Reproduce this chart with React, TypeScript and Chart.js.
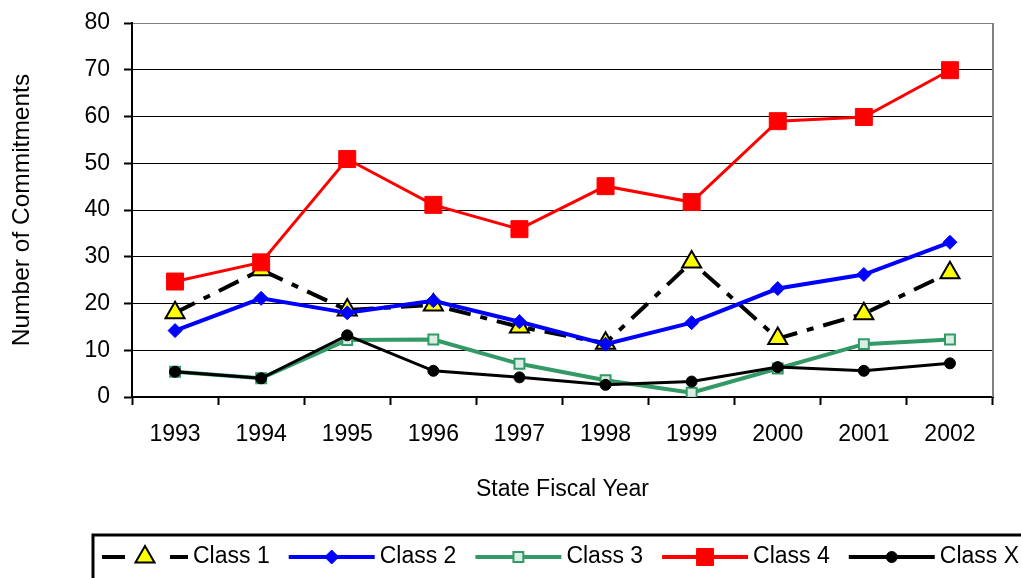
import React, { useEffect, useRef } from "react";
import { Chart, registerables } from "chart.js";
import { drawPoint } from "chart.js/helpers";

Chart.register(...registerables);

const years = ["1993", "1994", "1995", "1996", "1997", "1998", "1999", "2000", "2001", "2002"];
const class1 = [18.0, 27.2, 18.6, 19.7, 15.0, 11.5, 28.9, 12.5, 17.8, 26.6];
const class2 = [14.2, 21.1, 18.0, 20.6, 16.1, 11.3, 15.9, 23.2, 26.2, 33.1];
const class3 = [5.4, 4.0, 12.2, 12.3, 7.1, 3.6, 0.9, 6.1, 11.3, 12.3];
const class4 = [24.7, 28.8, 50.9, 41.1, 35.9, 45.1, 41.7, 59.0, 59.9, 69.9];
const classX = [5.4, 4.0, 13.2, 5.6, 4.2, 2.6, 3.3, 6.4, 5.6, 7.2];
const yTicks = [0, 10, 20, 30, 40, 50, 60, 70, 80];

const FONT = '"Liberation Sans", Arial, sans-serif';

const frameAndLegend = {
  id: "frameAndLegend",
  beforeDatasetsDraw(chart: any) {
    const { ctx, chartArea } = chart;
    ctx.save();
    ctx.strokeStyle = "#808080";
    ctx.lineWidth = 2;
    ctx.beginPath();
    ctx.moveTo(chartArea.right, chartArea.top);
    ctx.lineTo(chartArea.right, chartArea.bottom);
    ctx.stroke();
    ctx.restore();
  },
  afterDraw(chart: any) {
    const ctx = chart.ctx;
    ctx.save();
    ctx.lineWidth = 3;
    ctx.strokeStyle = "#000";
    ctx.setLineDash([]);
    ctx.strokeRect(93, 535, 1000, 70);
    ctx.font = `23px ${FONT}`;
    ctx.textBaseline = "middle";
    ctx.textAlign = "left";
    let x = 102;
    const y = 557;
    chart.data.datasets.forEach((ds: any) => {
      ctx.strokeStyle = ds.borderColor;
      ctx.lineWidth = 4;
      ctx.setLineDash(ds.legendDash || []);
      ctx.beginPath();
      ctx.moveTo(x, y);
      ctx.lineTo(x + 86, y);
      ctx.stroke();
      ctx.setLineDash([]);
      ctx.fillStyle = ds.pointBackgroundColor;
      ctx.strokeStyle = ds.pointBorderColor;
      ctx.lineWidth = ds.pointBorderWidth;
      drawPoint(
        ctx,
        { pointStyle: ds.pointStyle, rotation: 0, radius: ds.pointRadius, borderWidth: ds.pointBorderWidth },
        x + 43,
        y
      );
      ctx.fillStyle = "#000";
      ctx.fillText(ds.label, x + 91, y);
      x = x + 91 + ctx.measureText(ds.label).width + 19;
    });
    ctx.restore();
  },
};

export default function App() {
  const ref = useRef<HTMLCanvasElement | null>(null);
  useEffect(() => {
    if (!ref.current) return;
    const chart = new Chart(ref.current, {
      type: "line",
      data: {
        labels: years,
        datasets: [
          {
            label: "Class 1",
            data: class1,
            borderColor: "#000000",
            borderWidth: 4,
            borderDash: [22, 10, 7, 10],
            legendDash: [23, 45],
            pointStyle: "triangle",
            pointRadius: 11,
            pointBackgroundColor: "#FFFF00",
            pointBorderColor: "#000000",
            pointBorderWidth: 2,
            order: 5,
          } as any,
          {
            label: "Class 2",
            data: class2,
            borderColor: "#0000FF",
            borderWidth: 4,
            pointStyle: "rectRot",
            pointRadius: 7,
            pointBackgroundColor: "#0000FF",
            pointBorderColor: "#0000FF",
            pointBorderWidth: 1,
            order: 4,
          },
          {
            label: "Class 3",
            data: class3,
            borderColor: "#339966",
            borderWidth: 4,
            pointStyle: "rect",
            pointRadius: 7,
            pointBackgroundColor: "#d9efe4",
            pointBorderColor: "#339966",
            pointBorderWidth: 2,
            order: 3,
          },
          {
            label: "Class 4",
            data: class4,
            borderColor: "#FF0000",
            borderWidth: 3,
            pointStyle: "rect",
            pointRadius: 12,
            pointBackgroundColor: "#FF0000",
            pointBorderColor: "#FF0000",
            pointBorderWidth: 1,
            order: 2,
          },
          {
            label: "Class X",
            data: classX,
            borderColor: "#000000",
            borderWidth: 3,
            pointStyle: "circle",
            pointRadius: 5.5,
            pointBackgroundColor: "#000000",
            pointBorderColor: "#000000",
            pointBorderWidth: 1,
            order: 1,
          },
        ],
      },
      options: {
        responsive: false,
        animation: false,
        layout: { padding: { left: 0, right: 28, top: 23, bottom: 0 } },
        plugins: { legend: { display: false }, tooltip: { enabled: false } },
        elements: { line: { tension: 0 } },
        scales: {
          x: {
            offset: true,
            grid: {
              offset: true,
              drawOnChartArea: false,
              tickLength: 8,
              tickColor: "#000",
              tickWidth: 2,
            },
            border: { display: true, color: "#000", width: 2 },
            ticks: { color: "#000", font: { family: FONT, size: 23 }, padding: 16, maxRotation: 0 },
            title: {
              display: true,
              text: "State Fiscal Year",
              color: "#000",
              font: { family: FONT, size: 23 },
              padding: { top: 0, bottom: 75 },
            },
            afterFit(scale: any) {
              scale.height = 181;
              scale.paddingLeft = 0;
              scale.paddingRight = 0;
            },
          },
          y: {
            min: 0,
            max: 80,
            afterBuildTicks(scale: any) {
              scale.ticks = yTicks.map((v) => ({ value: v }));
            },
            grid: {
              color: (c: any) => (c.tick && c.tick.value === 80 ? "#808080" : "#000"),
              lineWidth: 1,
              tickLength: 8,
              tickColor: "#000",
              tickWidth: 2,
            },
            border: { display: true, color: "#000", width: 2 },
            ticks: { color: "#000", font: { family: FONT, size: 23 }, padding: 14 },
            title: {
              display: true,
              text: "Number of Commitments",
              color: "#000",
              font: { family: FONT, size: 24.5 },
              padding: { top: 8, bottom: 0 },
            },
            afterFit(scale: any) {
              scale.width = 132;
              scale.paddingTop = 0;
              scale.paddingBottom = 0;
            },
          },
        },
      },
      plugins: [frameAndLegend],
    });
    return () => chart.destroy();
  }, []);
  return (
    <div style={{ position: "absolute", left: 0, top: 0, width: 1021, height: 578 }}>
      <canvas ref={ref} width={1021} height={578} />
    </div>
  );
}
